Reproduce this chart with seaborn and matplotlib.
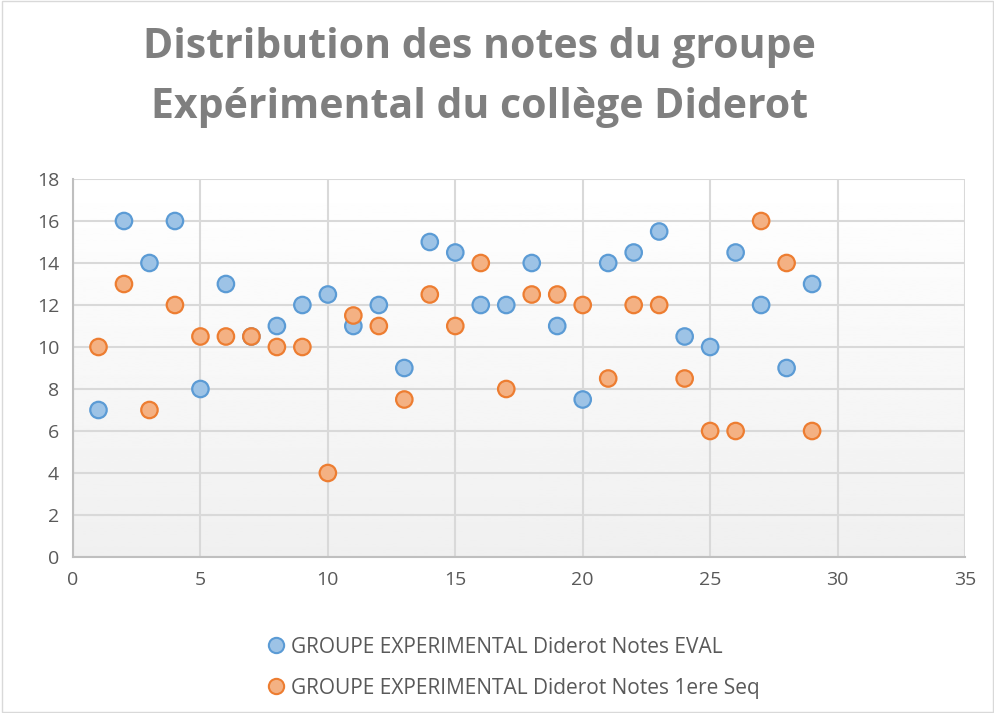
import numpy as np
import matplotlib.pyplot as plt
import pandas as pd
import seaborn as sns

# data
eleves = list(range(1, 30))
notes_eval = [7, 16, 14, 16, 8, 13, 10.5, 11, 12, 12.5, 11, 12, 9, 15, 14.5,
              12, 12, 14, 11, 7.5, 14, 14.5, 15.5, 10.5, 10, 14.5, 12, 9, 13]
notes_seq1 = [10, 13, 7, 12, 10.5, 10.5, 10.5, 10, 10, 4, 11.5, 11, 7.5, 12.5, 11,
              14, 8, 12.5, 12.5, 12, 8.5, 12, 12, 8.5, 6, 6, 16, 14, 6]
serie_eval = "GROUPE EXPERIMENTAL Diderot Notes EVAL"
serie_seq1 = "GROUPE EXPERIMENTAL Diderot Notes 1ere Seq"

df = pd.DataFrame({
    "eleve": eleves * 2,
    "note": notes_eval + notes_seq1,
    "serie": [serie_eval] * len(eleves) + [serie_seq1] * len(eleves),
})

sns.set_style("white")
plt.rcParams['font.family'] = ['Open Sans', 'DejaVu Sans']

fig = plt.figure(figsize=(9.95, 7.13), dpi=100)
ax = fig.add_axes([73 / 995, 1 - 557 / 713, (965 - 73) / 995, (557 - 179) / 713])

# gradient background like the Excel plot area
grad = np.linspace(1, 0.94, 256).reshape(-1, 1)
ax.imshow(grad, cmap="gray", vmin=0, vmax=1, aspect="auto",
          extent=[0, 1, 0, 1], transform=ax.transAxes, zorder=0)

sns.scatterplot(data=df, x="eleve", y="note", hue="serie", ax=ax,
                palette={serie_eval: "#9dc3e6", serie_seq1: "#f4b183"},
                s=140, linewidth=1.6, zorder=3, legend=False)
# edge colours per series
cols = ax.collections[-1]
edges = ["#5b9bd5"] * len(eleves) + ["#ed7d31"] * len(eleves)
cols.set_edgecolors(edges)

ax.set_xlim(0, 35)
ax.set_ylim(0, 18)
ax.set_xticks(range(0, 36, 5))
ax.set_yticks(range(0, 19, 2))
ax.grid(True, color="#d9d9d9", linewidth=1.5)
ax.set_axisbelow(True)
ax.set_xlabel("")
ax.set_ylabel("")
for side in ["top", "right"]:
    ax.spines[side].set_visible(False)
for side in ["left", "bottom"]:
    ax.spines[side].set_color("#bfbfbf")
    ax.spines[side].set_linewidth(1.5)
ax.tick_params(colors="#595959", labelsize=14, length=0, pad=10)

fig.suptitle("Distribution des notes du groupe\nExpérimental du collège Diderot",
             x=0.482, y=0.962, fontsize=29.5, fontweight="bold", color="#7f7f7f",
             linespacing=1.6)

# legend below the plot
h1 = plt.Line2D([], [], marker="o", linestyle="", markersize=11,
                markerfacecolor="#9dc3e6", markeredgecolor="#5b9bd5", markeredgewidth=1.5)
h2 = plt.Line2D([], [], marker="o", linestyle="", markersize=11,
                markerfacecolor="#f4b183", markeredgecolor="#ed7d31", markeredgewidth=1.5)
fig.legend([h1, h2], [serie_eval, serie_seq1], loc="upper left",
           bbox_to_anchor=(245 / 995, 1 - 618 / 713), frameon=False,
           fontsize=15, labelcolor="#595959", handletextpad=0.1,
           labelspacing=0.95, handlelength=1.2)

fig.patches.append(plt.Rectangle((0.002, 0.002), 0.996, 0.996, transform=fig.transFigure,
                                 fill=False, edgecolor="#d9d9d9", linewidth=1))

fig.savefig("out.png", dpi=100)
